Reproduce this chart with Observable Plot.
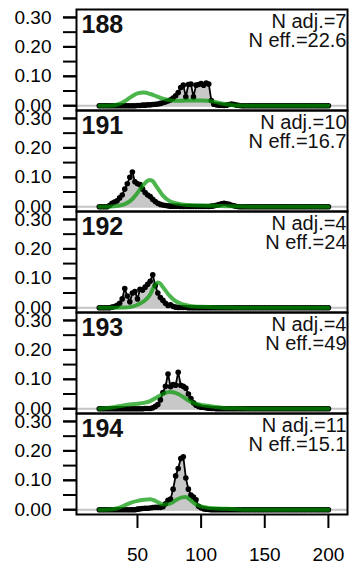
<!DOCTYPE html>
<html><head><meta charset="utf-8">
<script src="https://cdn.jsdelivr.net/npm/d3@7"></script>
<script src="https://cdn.jsdelivr.net/npm/@observablehq/plot@0.6"></script>
<style>body{margin:0;background:#fff;} svg{font-family:"Liberation Sans",Arial,sans-serif;}</style>
</head><body><div id="chart"></div>
<script>
const panels = ["188","191","192","193","194"];
const nAdj = [7,10,4,4,11];
const nEff = ["22.6","16.7","24","49","15.1"];
const yLabelTicks = [0,0.1,0.2,0.3];
const yAllTicks = [0,0.05,0.1,0.15,0.2,0.25,0.3];
const xTicks = [50,100,150,200];

const obsX = [20,22,24,26,28,30,32,34,36,38,
  40,42,44,46,48,50,52,54,56,58,
  60,62,64,66,68,70,72,74,76,78,
  80,82,84,86,88,90,92,94,96,98,
  100,102,104,106,108,110,112,114,116,118,
  120,122,124,126,128,130,132,134,136,138,
  140,142,144,146,148,150,152,154,156,158,
  160,162,164,166,168,170,172,174,176,178,
  180,182,184,186,188,190,192,194,196,198,
  200];

const obs188 = [0,0,0,0,0,0,0,0,0,0,
  0,0,0,0,0,0.001,0.001,0.002,0.002,0.003,
  0.003,0.004,0.005,0.006,0.008,0.01,0.013,0.016,0.02,0.026,
  0.034,0.045,0.062,0.07,0.03,0.072,0.074,0.03,0.07,0.072,
  0.075,0.07,0.077,0.074,0.018,0.005,0.003,0.002,0.002,0.001,
  0.002,0.004,0.006,0.004,0.002,0.001,0,0,0,0,
  0,0,0,0,0,0,0,0,0,0,
  0,0,0,0,0,0,0,0,0,0,
  0,0,0,0,0,0,0,0,0,0,
  0];
const obs191 = [0,0,0,0,0.004,0.012,0.016,0.02,0.03,0.04,
  0.06,0.078,0.1,0.118,0.085,0.078,0.075,0.06,0.048,0.04,
  0.035,0.025,0.018,0.012,0.008,0.006,0.004,0.003,0.002,0.002,
  0.002,0.002,0.001,0.001,0.001,0.001,0.001,0.001,0.001,0.001,
  0.001,0.001,0.001,0.001,0.002,0.003,0.005,0.007,0.01,0.012,
  0.01,0.008,0.005,0.003,0.001,0,0,0,0,0,
  0,0,0,0,0,0,0,0,0,0,
  0,0,0,0,0,0,0,0,0,0,
  0,0,0,0,0,0,0,0,0,0,
  0];
const obs192 = [0,0,0,0,0,0.002,0.004,0.008,0.015,0.03,
  0.065,0.04,0.02,0.05,0.055,0.03,0.063,0.06,0.07,0.08,
  0.09,0.112,0.075,0.05,0.035,0.025,0.015,0.008,0.01,0.004,
  0.002,0.001,0.001,0.001,0.001,0,0,0,0,0,
  0,0,0,0,0,0,0,0,0,0,
  0,0,0,0,0,0,0,0,0,0,
  0,0,0,0,0,0,0,0,0,0,
  0,0,0,0,0,0,0,0,0,0,
  0,0,0,0,0,0,0,0,0,0,
  0];
const obs193 = [0,0,0,0,0,0,0,0,0,0,
  0,0,0,0,0,0,0,0,0.001,0.001,
  0.001,0.003,0.008,0.014,0.03,0.055,0.076,0.118,0.075,0.082,
  0.08,0.124,0.08,0.076,0.07,0.05,0.035,0.02,0.012,0.008,
  0.005,0.004,0.003,0.002,0.001,0.001,0,0,0,0,
  0,0,0,0,0,0,0,0,0,0,
  0,0,0,0,0,0,0,0,0,0,
  0,0,0,0,0,0,0,0,0,0,
  0,0,0,0,0,0,0,0,0,0,
  0];
const obs194 = [0,0,0,0,0,0,0,0,0,0,
  0,0,0,0,0,0.002,0.003,0.004,0.005,0.005,
  0.006,0.007,0.008,0.008,0.008,0.01,0.02,0.032,0.036,0.07,
  0.115,0.14,0.174,0.18,0.108,0.07,0.05,0.043,0.034,0.012,
  0.006,0.003,0.002,0.001,0,0,0,0,0,0,
  0,0,0,0,0,0,0,0,0,0,
  0,0,0,0,0,0,0,0,0,0,
  0,0,0,0,0,0,0,0,0,0,
  0,0,0,0,0,0,0,0,0,0,
  0];

const exp188X = [20,30,35,40,45,50,55,60,65,70,75,80,85,90,95,100,105,110,115,120,125,130,140,200];
const exp188Y = [0,0.001,0.005,0.015,0.03,0.042,0.045,0.04,0.032,0.024,0.019,0.017,0.017,0.018,0.018,0.018,0.017,0.014,0.009,0.005,0.002,0.001,0,0];
const exp191X = [20,30,35,40,45,50,55,58,60,62,65,70,75,80,85,90,100,110,120,130,140,200];
const exp191Y = [0,0.001,0.003,0.009,0.022,0.047,0.076,0.088,0.091,0.087,0.068,0.038,0.02,0.012,0.008,0.006,0.004,0.003,0.002,0.001,0,0];
const exp192X = [20,40,45,50,55,60,63,66,68,70,75,80,85,90,95,100,110,120,130,200];
const exp192Y = [0,0.001,0.003,0.01,0.022,0.045,0.072,0.086,0.082,0.07,0.042,0.022,0.012,0.007,0.004,0.003,0.002,0.001,0,0];
const exp193X = [20,30,40,50,55,60,65,70,75,78,82,86,90,95,100,105,110,115,120,130,140,200];
const exp193Y = [0,0.004,0.012,0.017,0.02,0.026,0.038,0.05,0.057,0.056,0.05,0.04,0.028,0.018,0.013,0.01,0.007,0.004,0.002,0.001,0,0];
const exp194X = [20,30,35,40,45,50,55,60,65,70,75,80,85,88,92,96,100,105,110,120,130,140,200];
const exp194Y = [0,0.002,0.006,0.015,0.024,0.03,0.034,0.036,0.028,0.018,0.02,0.032,0.042,0.043,0.032,0.018,0.011,0.007,0.005,0.003,0.001,0,0];

const obsSeries = [obs188, obs191, obs192, obs193, obs194];
const expXs = [exp188X, exp191X, exp192X, exp193X, exp194X];
const expYs = [exp188Y, exp191Y, exp192Y, exp193Y, exp194Y];

const obs = panels.flatMap((p, i) => obsX.map((x, j) => ({panel: p, x, y: obsSeries[i][j]})));
const exp = panels.flatMap((p, i) => expXs[i].map((x, j) => ({panel: p, x, y: expYs[i][j]})));
const labels = panels.map((p, i) => ({panel: p, id: p, n: `N adj.=${nAdj[i]}\nN eff.=${nEff[i]}`}));

const chart = Plot.plot({
  width: 352,
  height: 565,
  marginTop: 7,
  marginBottom: 49,
  marginLeft: 76,
  marginRight: 5,
  style: {fontFamily: "Liberation Sans, Arial, sans-serif", color: "black", background: "white"},
  x: {domain: [2.1, 215]},
  y: {domain: [-0.0162, 0.327]},
  fy: {domain: panels, padding: 0, axis: null},
  marks: [
    Plot.ruleY([0], {stroke: "#c4c4c4", strokeWidth: 2}),
    Plot.areaY(obs, {x: "x", y: "y", fy: "panel", fill: "#c8c8c8"}),
    Plot.line(obs, {x: "x", y: "y", fy: "panel", stroke: "black", strokeWidth: 1.8}),
    Plot.dot(obs, {x: "x", y: "y", fy: "panel", r: 2.8, fill: "black", stroke: null}),
    Plot.line(exp, {x: "x", y: "y", fy: "panel", stroke: "rgb(0,150,0)", strokeOpacity: 0.7, strokeWidth: 4, curve: "monotone-x", strokeLinecap: "round"}),
    Plot.text(labels, {fy: "panel", text: "id", frameAnchor: "top-left", dx: 5, dy: 6, lineAnchor: "top", fontSize: 25, fontWeight: "bold", fill: "#111"}),
    Plot.text(labels, {fy: "panel", text: "n", frameAnchor: "top-right", dx: -1, dy: 5, lineAnchor: "top", textAnchor: "end", fontSize: 20, lineHeight: 0.95, fill: "#111"}),
    Plot.frame({stroke: "black", strokeWidth: 2}),
    Plot.axisY(yAllTicks, {tickSize: 13, text: null, strokeWidth: 2, label: null}),
    Plot.axisY(yLabelTicks, {tickSize: 13, tickPadding: 12, tickFormat: d3.format(".2f"), fontSize: 19, strokeWidth: 2, label: null}),
    Plot.axisX(xTicks, {tickSize: 14, tickPadding: 19, fontSize: 19, strokeWidth: 2, label: null})
  ]
});
document.getElementById("chart").appendChild(chart);
</script>
</body></html>
